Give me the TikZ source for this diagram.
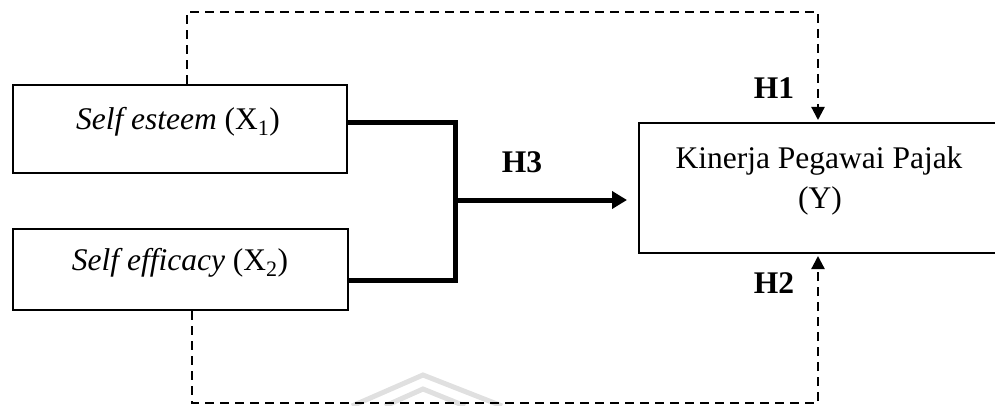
\documentclass[tikz,border=0pt]{standalone}
\usepackage{fontspec}
\setmainfont{Liberation Serif}
\usetikzlibrary{arrows.meta}
\begin{document}
\begin{tikzpicture}[x=1pt,y=-1pt,
  box/.style={draw,line width=2pt,rectangle,inner sep=0pt},
  txt/.style={font=\fontsize{31.5}{37}\selectfont,inner sep=0pt,anchor=base},
  hyp/.style={font=\fontsize{31.5}{37}\selectfont\bfseries,inner sep=0pt},
  boldlink/.style={line width=5pt},
  dashlink/.style={line width=2.2pt,dash pattern=on 9pt off 6pt},
  tip/.style={-{Triangle[length=13pt,width=13pt]}},
  bigtip/.style={-{Triangle[length=15pt,width=17pt]}},
  mark gray/.style={line width=5pt,draw=black!12,line join=miter}]
\useasboundingbox (0,0) rectangle (995,406);
% faint emblem at the bottom
\draw[mark gray] (352,406) -- (423,375) -- (502,406);
\draw[mark gray] (385,406) -- (423,389) -- (465,406);
% boxes
\node[box,minimum width=334pt,minimum height=88pt] (x1) at (180,129) {};
\node[box,minimum width=335pt,minimum height=81pt] (x2) at (180.5,269.5) {};
\node[box,minimum width=362pt,minimum height=130pt] (y) at (820,188) {};
% box texts
\node[txt] (x1t) at (178,130) {\textit{Self esteem} (X\textsubscript{1})};
\node[txt] (x2t) at (180,270) {\textit{Self efficacy} (X\textsubscript{2})};
\node[txt] (yt1) at (819,168) {Kinerja Pegawai Pajak};
\node[txt] (yt2) at (820,208) {(Y)};
% hypothesis labels
\node[hyp] (h1) at (774,88) {H1};
\node[hyp] (h2) at (774,283) {H2};
\node[hyp] (h3) at (522,162) {H3};
% joint effect
\coordinate (j1) at (455,123);
\coordinate (j2) at (455,280);
\coordinate (jm) at (455,200);
\draw[boldlink,line join=miter] (x1.east |- j1) -- (j1) -- (j2) -- (x2.east |- j2);
\draw[boldlink,bigtip,shorten >=11pt] (jm) -- (y.west |- jm);
% partial effects
\coordinate (t1) at (187,12);
\coordinate (t2) at (818,12);
\coordinate (b1) at (192,403);
\coordinate (b2) at (818,403);
\draw[dashlink,tip,shorten >=2pt] (x1.north -| t1) -- (t1) -- (t2) -- (y.north -| t2);
\draw[dashlink,tip,shorten >=2pt] (x2.south -| b1) -- (b1) -- (b2) -- (y.south -| b2);
\end{tikzpicture}
\end{document}
